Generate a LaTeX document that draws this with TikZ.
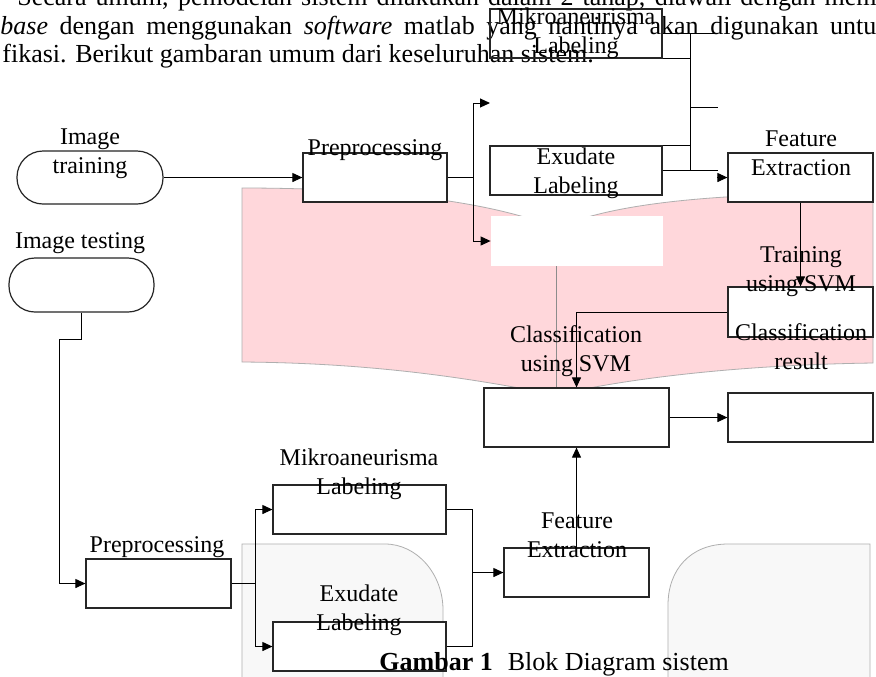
\documentclass[tikz,border=0pt]{standalone}
\usepackage{fontspec}
\setmainfont{Liberation Serif}
\usetikzlibrary{arrows.meta}

\definecolor{pinkbg}{RGB}{255,215,219}
\definecolor{greybg}{RGB}{248,248,248}
\definecolor{edgegrey}{RGB}{175,175,175}

\newcommand{\diagfont}{\fontsize{12}{14.5}\selectfont}
\newcommand{\parafont}{\fontsize{13}{16}\selectfont}

\tikzset{
	blok/.style={shape=rectangle, draw=black!85, fill=white, line width=0.6pt, inner sep=0pt, minimum width=72.5pt, minimum height=24.5pt},
	awal/.style={blok, rounded corners=13pt, minimum height=26.5pt},
	teks/.style={align=center, inner sep=0pt, font=\diagfont},
	garis/.style={line width=0.5pt},
	panah/.style={garis, -{Triangle[length=5pt,width=4.5pt]}},
}

\begin{document}
\begin{tikzpicture}[x=0.5pt, y=-0.5pt]
	\useasboundingbox (0,0) rectangle (876,676);
	\fill[white] (0,0) rectangle (876,676);
	\clip (0,0) rectangle (876,676);

	\node[anchor=base west, inner sep=0pt, font=\parafont] (par1) at (17,5) {\makebox[429.5pt][s]{Secara umum, pemodelan sistem dilakukan dalam 2 tahap, diawali dengan mem}};
	\node[anchor=base west, inner sep=0pt, font=\parafont] (par2) at (0,34) {\makebox[438pt][s]{\textit{base} dengan menggunakan \textit{software} matlab yang nantinya akan digunakan untu}};
	\node[anchor=base west, inner sep=0pt, font=\parafont] (par3) at (2,62) {fikasi. Berikut gambaran umum dari keseluruhan sistem.};

	\filldraw[fill=pinkbg, draw=edgegrey, line width=0.4pt] (242,188) .. controls (400,188) and (500,205) .. (556,228) .. controls (610,205) and (700,193) .. (873,193) -- (873,363) .. controls (730,365) and (620,380) .. (556,395) .. controls (480,380) and (380,363) .. (242,362) -- cycle;
	\filldraw[fill=greybg, draw=edgegrey, line width=0.4pt] (242,680) -- (242,544) -- (385,544) .. controls (417,544) and (443,574) .. (443,610) -- (443,680);
	\filldraw[fill=greybg, draw=edgegrey, line width=0.4pt] (668,680) -- (668,605) .. controls (668,570) and (690,544) .. (728,544) -- (870,544) -- (870,680);

	\node[blok, fill=none, minimum width=86pt] (mikA) at (576,33.5) {};
	\node[blok, minimum width=86pt] (exA) at (576,170.5) {};
	\node[blok, minimum width=72pt] (preA) at (375,177.5) {};
	\node[blok] (feA) at (800.5,177.5) {};
	\node[blok, minimum height=25pt] (trainBox) at (800.5,312) {};
	\node[shape=rectangle, fill=white, inner sep=0pt, minimum width=86pt, minimum height=25pt] (blank) at (577,241) {};
	\node[blok, minimum width=92.5pt, minimum height=29.5pt] (clsBox) at (576.5,417.5) {};
	\node[blok] (resBox) at (800.5,417.5) {};
	\node[blok] (preB) at (158.5,583.5) {};
	\node[blok, minimum width=86.5pt] (mikB) at (359.5,509.5) {};
	\node[blok, minimum width=86.5pt] (exB) at (359.5,646.5) {};
	\node[blok] (feB) at (576.5,572.5) {};
	\node[awal, minimum width=73pt] (imgTrain) at (90,177.5) {};
	\node[awal, minimum width=72.5pt, minimum height=27pt] (imgTest) at (81.5,285) {};

	\coordinate (splitA) at (473,177.5);
	\coordinate (mikIn) at (490,103);
	\coordinate (busTop) at (690,33.5);
	\coordinate (busBot) at (690,170.5);
	\coordinate (mikOut) at (718,33.5);
	\coordinate (stub) at (718,107);
	\coordinate (feStub) at (718,170.5);
	\coordinate (feTip) at (717,177.5);
	\coordinate (bendA) at (81.5,339);
	\coordinate (bendB) at (59,339);
	\coordinate (splitB) at (255,583.5);
	\coordinate (joinB) at (472,572.5);

	\draw[panah] (imgTrain) -- (preA);
	\draw[garis] (preA.east) -- (splitA);
	\draw[panah] (splitA) |- (mikIn);
	\draw[panah] (splitA) |- (blank.west);
	\draw[garis] (mikA.east) -- (mikOut);
	\draw[garis] (mikA.south east) -- (mikA.south east -| busTop);
	\draw[garis] (busTop) -- (busBot);
	\draw[garis] (stub -| busTop) -- (stub);
	\draw[garis] (exA.north east) -- (exA.north east -| busTop);
	\draw[garis] (exA.east) -- (feStub);
	\draw[panah] (feTip) -- (feA.west);
	\draw[panah] (feA) -- (trainBox);
	\draw[panah] (trainBox.west) -| (clsBox.north);
	\draw[edgegrey!80!black, line width=0.4pt] ([xshift=-10.5pt]blank.south) -- ([xshift=-10.25pt]clsBox.north);
	\draw[panah] (clsBox) -- (resBox);
	\draw[panah] (feB) -- (clsBox);
	\draw[panah] (imgTest.south) -- (bendA) -- (bendB) |- (preB.west);
	\draw[garis] (preB.east) -- (splitB);
	\draw[panah] (splitB) |- (mikB.west);
	\draw[panah] (splitB) |- (exB.west);
	\draw[garis] (mikB.east) -| (joinB) |- (exB.east);
	\draw[panah] (joinB) -- (feB.west);

	\node[teks] (tImgTrain) at (90,153.5) {Image\\training};
	\node[teks, anchor=base] (tImgTest) at (80,248) {Image testing};
	\node[teks, anchor=base] (tPreA) at (375,155) {Preprocessing};
	\node[teks] (tMikA) at (576,33) {Mikroaneurisma\\Labeling};
	\node[teks] (tExA) at (576,173) {Exudate\\Labeling};
	\node[teks] (tFeA) at (801,153.5) {Feature\\Extraction};
	\node[teks] (tTrain) at (801,272) {Training\\using SVM};
	\node[teks] (tRes) at (801,347) {Classification\\result};
	\node[teks] (tCls) at (576,351) {Classification\\using SVM};
	\node[teks, anchor=base] (tPreB) at (157,552) {Preprocessing};
	\node[teks] (tMikB) at (359,474) {Mikroaneurisma\\Labeling};
	\node[teks] (tExB) at (359,610.5) {Exudate\\Labeling};
	\node[teks] (tFeB) at (577,535) {Feature\\Extraction};

	\node[anchor=base west, inner sep=0pt, font=\parafont] (caption) at (379,670) {\textbf{Gambar 1}\hspace{7.5pt}Blok Diagram sistem};

\end{tikzpicture}
\end{document}
